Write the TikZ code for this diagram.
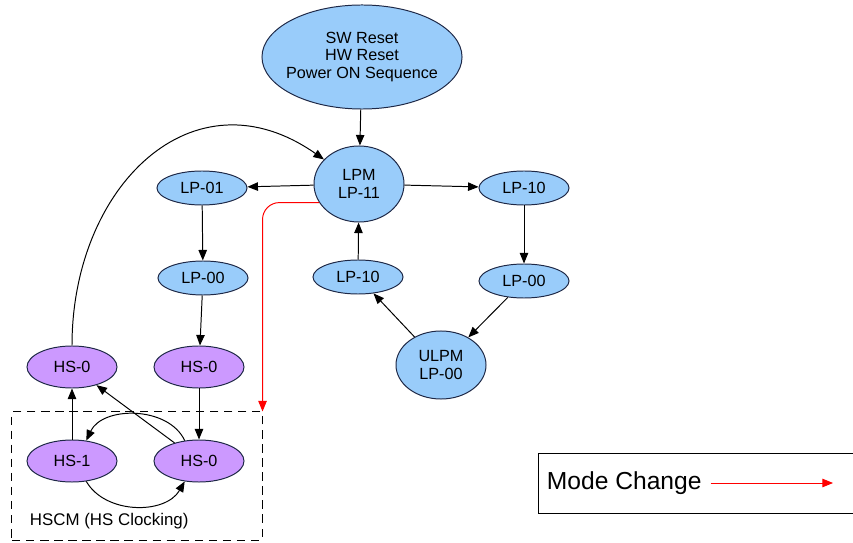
\documentclass[tikz,border=0pt]{standalone}
\usepackage{fontspec}
\setmainfont{Liberation Sans}
\usepackage{xcolor}
\usepackage{tikz}
\usetikzlibrary{positioning,arrows.meta,shapes.geometric}

\definecolor{lpblue}{RGB}{153,204,250}
\definecolor{hspurple}{RGB}{204,153,255}
\definecolor{edgeblue}{RGB}{30,40,70}

\begin{document}
\begin{tikzpicture}[
  x=0.025cm, y=-0.025cm,
  >={Triangle[length=7.5pt,width=6pt]},
  lp/.style={draw=edgeblue, ellipse, fill=lpblue, line width=0.7pt, minimum width=2.25cm, minimum height=0.85cm, inner sep=0pt, font=\fontsize{11.5}{12.5}\selectfont, align=center},
  hs/.style={lp, fill=hspurple, minimum height=1.05cm},
  link/.style={->, line width=0.7pt},
  mode/.style={->, line width=0.7pt, red, rounded corners=12pt}
]
\useasboundingbox (0,0) rectangle (853,543);

% Reset and low power states
\node[lp, minimum width=5cm, minimum height=2.6cm, inner sep=-5pt] (reset) at (362,57) {SW Reset\\HW Reset\\Power ON Sequence};
\node[lp, minimum width=2.25cm, minimum height=1.9cm] (lpm) at (359,184) {LPM\\LP-11};
\node[lp] (lp01) at (202,188) {LP-01};
\node[lp] (lp00l) at (203,278) {LP-00};
\node[lp] (lp10m) at (358,277) {LP-10};
\node[lp] (lp10r) at (524,188) {LP-10};
\node[lp] (lp00r) at (524,281) {LP-00};
\node[lp, minimum height=1.7cm] (ulpm) at (441,365) {ULPM\\LP-00};

% High speed states
\node[hs] (hs0a) at (72,367) {HS-0};
\node[hs] (hs0b) at (199,367) {HS-0};
\node[hs] (hs1) at (72,461) {HS-1};
\node[hs] (hs0c) at (199,461) {HS-0};

% HS clocking box
\node[draw, dash pattern=on 6pt off 4pt, line width=0.7pt, minimum width=6.25cm, minimum height=3.2cm] (hscm) at (137,476) {};
\node[font=\fontsize{12}{13}\selectfont, anchor=west] (hscmlabel) at (25,521) {HSCM (HS Clocking)};

% Transitions
\draw[link] (reset) -- (lpm);
\draw[link] (lpm) -- (lp01);
\draw[link] (lpm) -- (lp10r);
\draw[link] (lp01) -- (lp00l);
\draw[link] (lp00l) -- (hs0b);
\draw[link] (hs0b) -- (hs0c);
\draw[link] (lp10r) -- (lp00r);
\draw[link] (lp00r) -- (ulpm);
\draw[link] (ulpm) -- (lp10m);
\draw[link] (lp10m) -- (lpm);
\draw[link] (hs1) -- (hs0a);
\draw[link] (hs0c) -- (hs0a);
\draw[link] (hs0c.125) to[bend right=65] (hs1.55);
\draw[link] (hs1.-55) to[bend right=60] (hs0c.-125);
\draw[link] (hs0a.north) to[out=90, in=145, looseness=1.3] (lpm.145);

% Mode change
\draw[mode] (lpm.205) -| (hscm.north east);

% Legend
\node[draw, line width=0.7pt, minimum width=8cm, minimum height=1.5cm, anchor=west] (legend) at (538,483) {};
\node[font=\fontsize{17.5}{19}\selectfont, anchor=west] (legendtext) at (542,483) {Mode Change};
\coordinate (legendend) at (833,483);
\draw[->, red, line width=0.7pt] (legendtext.east) ++(4,0) coordinate (legendstart) -- (legendend);

\end{tikzpicture}
\end{document}
